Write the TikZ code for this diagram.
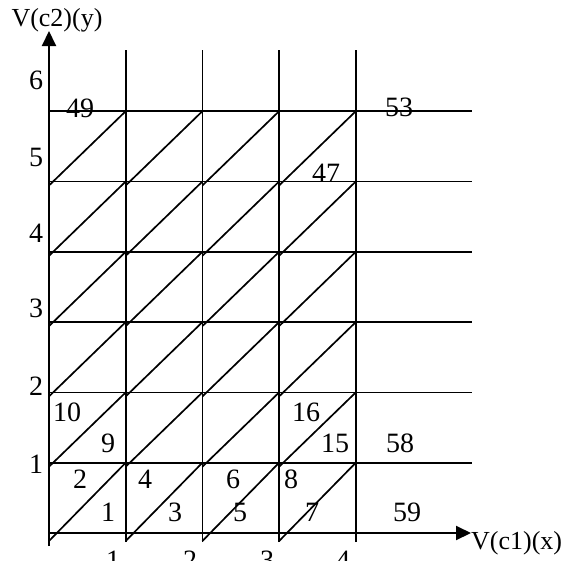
\documentclass[tikz,border=0pt]{standalone}
\usepackage{fontspec}
\setmainfont{Liberation Serif}
\usetikzlibrary{arrows.meta}
\begin{document}
\begin{tikzpicture}[x=1pt,y=-1pt,
  gridline/.style={line width=1.7pt},
  axisline/.style={line width=2pt,-{Triangle[length=15pt,width=14pt]}},
  lab/.style={font=\fontsize{28}{28}\selectfont, inner sep=0pt},
  axlab/.style={font=\fontsize{26}{26}\selectfont, inner sep=0pt}]
\useasboundingbox (0,0) rectangle (565,560);
\def\ux{76.7}
\def\uy{70.3}
% grid
\foreach \i in {1,...,4} \draw[gridline] (49+\i*\ux,542) -- (49+\i*\ux,50);
\foreach \j in {1,...,6} \draw[gridline] (49,533-\j*\uy) -- (472,533-\j*\uy);
\foreach \i in {0,...,3} {
  \draw[gridline] (49+\i*\ux,541) -- (49+\i*\ux+\ux,533-\uy);
  \foreach \j in {1,...,5}
    \draw[gridline] (49+\i*\ux,537-\j*\uy) -- (49+\i*\ux+\ux,533-\j*\uy-\uy);
}
% axes
\coordinate (O) at (49,533);
\coordinate (ybot) at (49,546);
\coordinate (xend) at (471,533);
\coordinate (yend) at (49,31);
\draw[axisline] (ybot) -- (yend);
\draw[axisline] (O) -- (xend);
\node[axlab,anchor=west] (xlab) at (471,543) {V(c1)(x)};
\node[axlab] (ylab) at (57,20) {V(c2)(y)};
% axis tick labels
\node[lab] (y1) at (36,464) {1};
\node[lab] (y2) at (36,386) {2};
\node[lab] (y3) at (36,308) {3};
\node[lab] (y4) at (36,233) {4};
\node[lab] (y5) at (36,157) {5};
\node[lab] (y6) at (36,80) {6};
\node[lab] (x1) at (113,560) {1};
\node[lab] (x2) at (190,560) {2};
\node[lab] (x3) at (267,560) {3};
\node[lab] (x4) at (343,560) {4};
% cell numbers
\node[lab] (c1) at (108,512) {1};
\node[lab] (c2) at (80,479) {2};
\node[lab] (c3) at (175,512) {3};
\node[lab] (c4) at (145,479) {4};
\node[lab] (c5) at (240,512) {5};
\node[lab] (c6) at (233,479) {6};
\node[lab] (c7) at (312,512) {7};
\node[lab] (c8) at (291,479) {8};
\node[lab] (c9) at (108,443) {9};
\node[lab] (c10) at (67,412) {10};
\node[lab] (c15) at (335,443) {15};
\node[lab] (c16) at (306,412) {16};
\node[lab] (c47) at (326,173) {47};
\node[lab] (c49) at (80,108) {49};
\node[lab] (c53) at (399,107) {53};
\node[lab] (c58) at (400,443) {58};
\node[lab] (c59) at (407,512) {59};
\end{tikzpicture}
\end{document}
